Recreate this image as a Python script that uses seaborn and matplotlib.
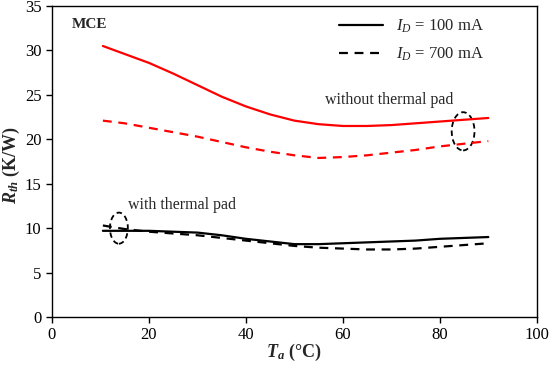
import matplotlib
matplotlib.use("Agg")
import matplotlib.pyplot as plt
from matplotlib.patches import Ellipse
from matplotlib.lines import Line2D
import seaborn as sns
import pandas as pd

temp = [10.5, 15, 20, 25, 30, 35, 40, 45, 50, 55, 60, 65, 70, 75, 80, 85, 90]
no_pad_100 = [30.5, 29.6, 28.6, 27.4, 26.1, 24.8, 23.7, 22.8, 22.1, 21.7, 21.5,
              21.5, 21.6, 21.8, 22.0, 22.2, 22.4]
no_pad_700 = [22.1, 21.8, 21.3, 20.8, 20.3, 19.7, 19.1, 18.6, 18.2, 17.9, 18.0,
              18.2, 18.5, 18.8, 19.2, 19.5, 19.8]
pad_100 = [9.7, 9.7, 9.7, 9.6, 9.5, 9.2, 8.8, 8.5, 8.2, 8.2, 8.3,
           8.4, 8.5, 8.6, 8.8, 8.9, 9.0]
pad_700 = [10.3, 9.9, 9.6, 9.4, 9.2, 8.9, 8.6, 8.3, 8.0, 7.8, 7.7,
           7.6, 7.6, 7.7, 7.9, 8.1, 8.3]

sns.set_style("ticks")
plt.rcParams["font.family"] = ["Liberation Serif", "DejaVu Serif"]
plt.rcParams["mathtext.fontset"] = "custom"
plt.rcParams["mathtext.rm"] = "Liberation Serif"
plt.rcParams["mathtext.it"] = "Liberation Serif:italic"
plt.rcParams["mathtext.bf"] = "Liberation Serif:bold"
plt.rcParams["mathtext.bfit"] = "Liberation Serif:bold:italic"

fig = plt.figure(figsize=(5.5, 3.65), dpi=100)
ax = fig.add_axes([0.0945, 0.1315, 0.8815, 0.852])

series = [
    (no_pad_100, "#ff0000", "-"),
    (no_pad_700, "#ff0000", (0, (4, 3))),
    (pad_100, "black", "-"),
    (pad_700, "black", (0, (4, 3))),
]
for vals, color, ls in series:
    df = pd.DataFrame({"T": temp, "R": vals})
    sns.lineplot(data=df, x="T", y="R", color=color, linestyle=ls, linewidth=1.6, ax=ax)

ax.set_xlim(0, 100)
ax.set_ylim(0, 35)
ax.set_xticks(range(0, 101, 20))
ax.set_yticks(range(0, 36, 5))
ax.tick_params(labelsize=12, length=4, width=1, direction="out", colors="black")
for sp in ax.spines.values():
    sp.set_linewidth(1)
    sp.set_color("black")

ax.set_xlabel(r"$\mathbfit{T}_{\mathbfit{a}}$ (°C)", fontsize=13, fontweight="bold",
              va="center")
ax.set_ylabel(r"$\mathbfit{R}_{\mathbfit{th}}$ (K/W)", fontsize=13, fontweight="bold",
              va="center", ha="center")
ax.xaxis.set_label_coords(0.5, -0.115)
ax.yaxis.set_label_coords(-0.083, 0.49)

ax.text(4, 32.9, "MCE", fontsize=11, fontweight="bold", va="center")
ax.text(15.7, 12.6, "with thermal pad", fontsize=11.5, va="center")
ax.text(69.5, 24.4, "without thermal pad", fontsize=11.5, va="center", ha="center")

ax.add_patch(Ellipse((13.8, 10.0), 3.7, 3.5, fill=False, edgecolor="black",
                     linestyle=(0, (3, 2)), linewidth=1.3))
ax.add_patch(Ellipse((84.8, 20.9), 4.7, 4.3, fill=False, edgecolor="black",
                     linestyle=(0, (3, 2)), linewidth=1.3))

handles = [
    Line2D([0], [0], color="black", linestyle="-", linewidth=1.6),
    Line2D([0], [0], color="black", linestyle=(0, (4, 3)), linewidth=1.6),
]
labels = [r"$I_D$ = 100 mA", r"$I_D$ = 700 mA"]
ax.legend(handles, labels, loc="upper right", frameon=False, fontsize=12,
          handlelength=2.6, handletextpad=0.8, borderaxespad=0.3,
          labelspacing=0.65, bbox_to_anchor=(0.915, 1.0))

fig.savefig("out.png", dpi=100)
